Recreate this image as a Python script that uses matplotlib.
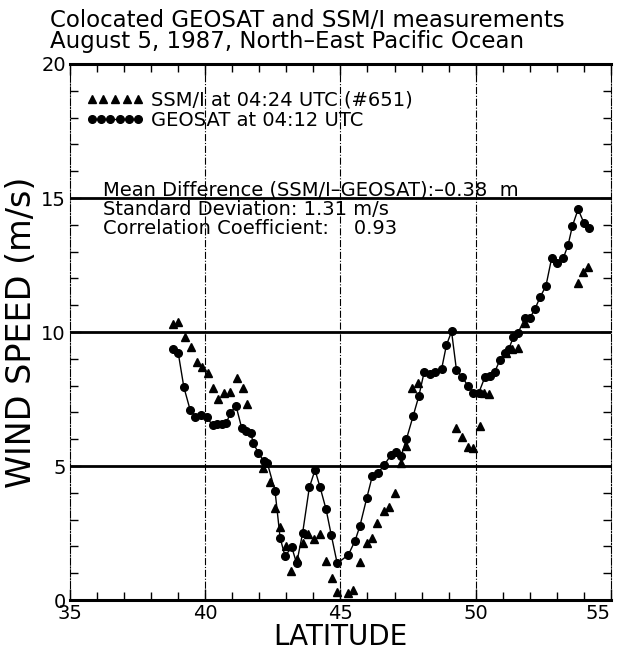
# -*- coding: utf-8 -*-
"""
Colocated GEOSAT and SSM/I wind speed measurements along the track,
August 5, 1987, North-East Pacific Ocean
"""
import matplotlib
matplotlib.use("Agg")
import matplotlib.pyplot as plt
from matplotlib.legend_handler import HandlerLine2D
from matplotlib.ticker import MultipleLocator

# =============================================================================
# data
# =============================================================================
# GEOSAT altimeter wind speed (connected dots)
geosat_lat = [38.82, 39.00, 39.21, 39.44, 39.64, 39.85, 40.05, 40.27, 40.45,
              40.62, 40.78, 40.92, 41.14, 41.35, 41.52, 41.68, 41.78, 41.96,
              42.17, 42.30, 42.58, 42.77, 42.95, 43.20, 43.38, 43.60, 43.85,
              44.06, 44.25, 44.47, 44.66, 44.88, 45.29, 45.54, 45.72, 45.97,
              46.18, 46.40, 46.62, 46.87, 47.04, 47.24, 47.44, 47.69, 47.90,
              48.10, 48.31, 48.49, 48.74, 48.92, 49.11, 49.29, 49.50, 49.72,
              49.91, 50.12, 50.34, 50.53, 50.71, 50.90, 51.08, 51.22, 51.40,
              51.57, 51.82, 52.00, 52.19, 52.38, 52.60, 52.81, 53.02, 53.24,
              53.42, 53.58, 53.79, 54.00, 54.20]
geosat_speed = [9.35, 9.23, 7.94, 7.10, 6.84, 6.92, 6.82, 6.53, 6.56,
                6.57, 6.59, 6.97, 7.24, 6.41, 6.31, 6.24, 5.85, 5.50,
                5.17, 5.10, 4.08, 2.32, 1.64, 1.97, 1.37, 2.49, 4.20,
                4.85, 4.20, 3.38, 2.43, 1.37, 1.68, 2.21, 2.76, 3.79,
                4.63, 4.75, 5.04, 5.41, 5.53, 5.37, 6.00, 6.87, 7.61,
                8.52, 8.43, 8.52, 8.61, 9.51, 10.02, 8.59, 8.32, 7.99,
                7.74, 7.74, 8.31, 8.36, 8.52, 8.96, 9.22, 9.35, 9.82,
                9.97, 10.51, 10.51, 10.85, 11.29, 11.72, 12.75, 12.59, 12.75,
                13.25, 13.96, 14.58, 14.08, 13.87]

# SSM/I radiometer wind speed (triangles)
ssmi_lat = [38.82, 39.00, 39.25, 39.46, 39.68, 39.87, 40.11, 40.27, 40.48,
            40.70, 40.91, 41.16, 41.38, 41.55, 42.15, 42.40, 42.58, 42.76,
            42.99, 43.18, 43.39, 43.60, 43.81, 44.02, 44.25, 44.46, 44.67,
            44.88, 45.29, 45.47, 45.72, 45.97, 46.18, 46.37, 46.62, 46.79,
            47.01, 47.24, 47.44, 47.66, 47.86, 49.29, 49.51, 49.70, 49.91,
            50.16, 50.30, 50.50, 51.14, 51.33, 51.55, 51.82, 53.79, 53.97,
            54.16]
ssmi_speed = [10.30, 10.38, 9.80, 9.45, 8.89, 8.71, 8.46, 7.90, 7.50,
              7.71, 7.77, 8.27, 7.90, 7.31, 4.93, 4.40, 3.44, 2.72,
              2.03, 1.08, 1.52, 2.12, 2.46, 2.26, 2.45, 1.45, 0.81,
              0.31, 0.25, 0.38, 1.43, 2.14, 2.30, 2.88, 3.33, 3.48,
              3.98, 5.10, 5.75, 7.90, 8.10, 6.41, 6.07, 5.70, 5.66,
              6.49, 7.74, 7.70, 9.20, 9.35, 9.42, 10.35, 11.84, 12.25,
              12.41]

# statistics printed in the panel
stats_lines = ["Mean Difference (SSM/I\u2013GEOSAT):\u20130.38  m",
               "Standard Deviation: 1.31 m/s",
               "Correlation Coefficient:    0.93"]

x_ticks = [35, 40, 45, 50, 55]
y_ticks = [0, 5, 10, 15, 20]

plt.rcParams['font.family'] = ['DejaVu Sans']

# =============================================================================
# figure
# =============================================================================
fig = plt.figure(figsize=(6.17, 6.51), dpi=100)
ax = fig.add_axes([0.1135, 0.0783, 0.8765, 0.8234])

# title in two lines above the axes
fig.text(0.081, 0.969, "Colocated GEOSAT and SSM/I measurements",
         fontsize=16.5, ha='left', va='center')
fig.text(0.081, 0.937, "August 5, 1987, North\u2013East Pacific Ocean",
         fontsize=16.5, ha='left', va='center')

# horizontal reference lines (thick) and vertical ones (dash-dot)
for yv in [5, 10, 15]:
    ax.axhline(yv, color='black', lw=2.0, zorder=1)
for xv in [40, 45, 50]:
    ax.axvline(xv, color='black', lw=0.8, ls='-.', zorder=1)

# the two series
ssmi_line, = ax.plot(ssmi_lat, ssmi_speed, ls='none', marker='^',
                     ms=5.5, color='black', zorder=3,
                     label="SSM/I at 04:24 UTC (#651)")
geo_line, = ax.plot(geosat_lat, geosat_speed, ls='-', lw=1.0, marker='o',
                    ms=5.5, color='black', zorder=4,
                    label="GEOSAT at 04:12 UTC")

# legend with a row of markers for each series
ax.legend(handles=[ssmi_line, geo_line], loc='upper left',
          bbox_to_anchor=(0.015, 0.965), frameon=False, fontsize=14,
          handlelength=3.0, handletextpad=0.35, labelspacing=0.05,
          borderaxespad=0,
          handler_map={ssmi_line: HandlerLine2D(numpoints=5),
                       geo_line: HandlerLine2D(numpoints=6)})

# statistics block
for i, line in enumerate(stats_lines):
    ax.text(0.061, 0.765 - i * 0.036, line, transform=ax.transAxes,
            fontsize=14, ha='left', va='center')

# axes limits, ticks and labels
ax.set_xlim(35, 55)
ax.set_ylim(0, 20)
ax.set_xticks(x_ticks)
ax.set_yticks(y_ticks)
ax.xaxis.set_minor_locator(MultipleLocator(1))
ax.yaxis.set_minor_locator(MultipleLocator(1))
ax.tick_params(which='both', direction='in', top=True, right=True,
               labelsize=14, width=1.0)
ax.tick_params(which='major', length=8, pad=3)
ax.tick_params(which='minor', length=6)
# last latitude label sits against the right edge
ax.get_xticklabels()[-1].set_horizontalalignment('right')
ax.set_xlabel("LATITUDE", fontsize=20, labelpad=0)
ax.set_ylabel("WIND SPEED (m/s)", fontsize=24, labelpad=2)

# frame: thick top and bottom, thin dash-dot sides
for side in ['top', 'bottom']:
    ax.spines[side].set_linewidth(2.2)
for side in ['left', 'right']:
    ax.spines[side].set_linewidth(0.8)
    ax.spines[side].set_linestyle('-.')

plt.savefig("out.png", dpi=100)
